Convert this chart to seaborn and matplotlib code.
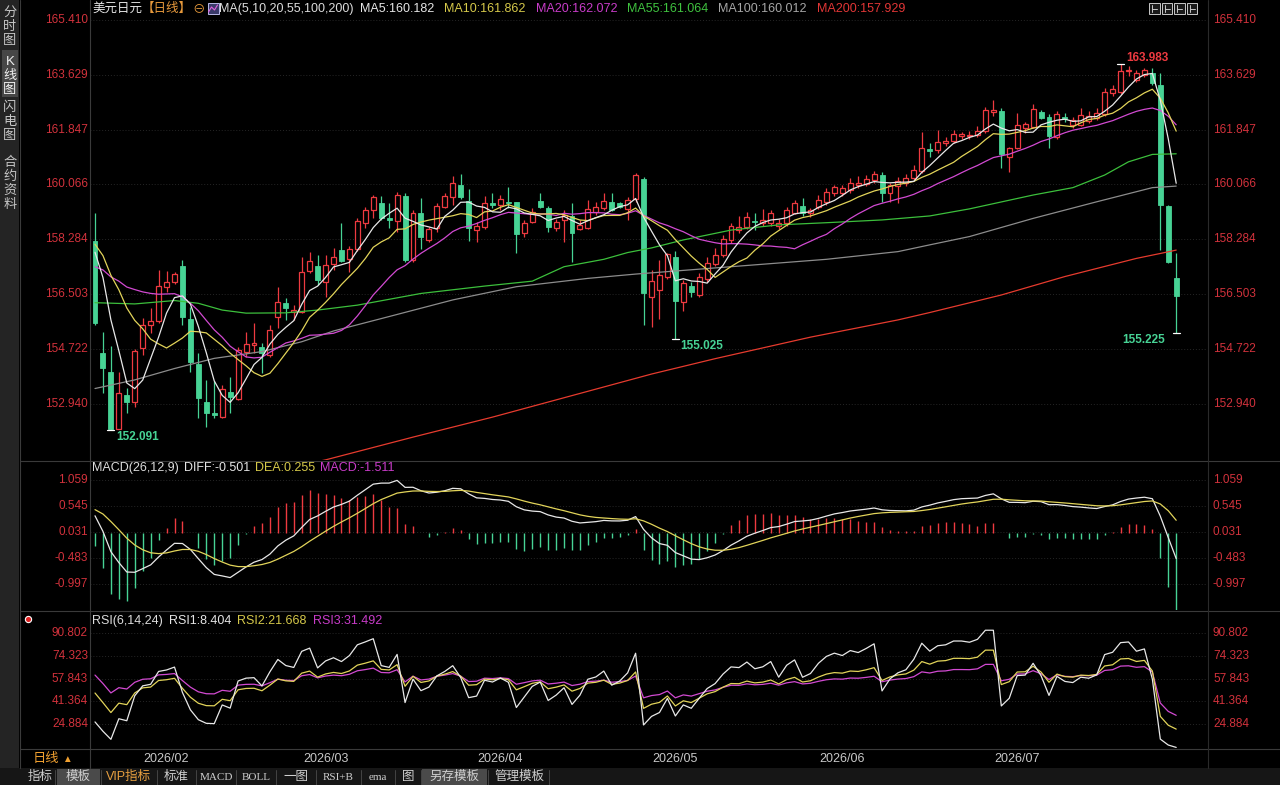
import numpy as np
import pandas as pd
import matplotlib
matplotlib.use("Agg")
import matplotlib.pyplot as plt
from matplotlib.patches import Rectangle
from matplotlib.lines import Line2D
import seaborn as sns

W, H = 1280, 785

# trading days shown on the chart
dates = pd.bdate_range("2026-01-20", "2026-07-29")

open_ = [158.24, 154.58, 153.98, 152.10, 153.22, 153.00, 154.75, 155.49, 155.63, 156.74,
         156.90, 157.42, 155.69, 154.23, 153.00, 152.62, 152.51, 153.33, 153.09, 154.63,
         154.84, 154.79, 154.52, 155.77, 156.20, 155.93, 155.93, 157.26, 157.42, 156.90,
         157.48, 157.93, 157.63, 157.95, 158.80, 159.23, 159.47, 158.98, 158.88, 159.69,
         157.61, 159.15, 158.26, 158.64, 159.34, 159.67, 160.05, 159.51, 158.58, 158.69,
         159.47, 159.40, 159.50, 159.50, 158.50, 158.85, 159.54, 159.29, 158.64, 158.91,
         159.04, 158.61, 158.66, 159.18, 159.29, 159.50, 159.45, 159.26, 159.58, 160.23,
         156.42, 156.63, 157.07, 157.69, 156.25, 156.76, 156.47, 156.98, 157.48, 157.77,
         158.26, 158.58, 158.67, 158.88, 158.80, 158.82, 158.72, 158.82, 159.15, 159.36,
         159.12, 159.32, 159.50, 159.78, 159.80, 159.88, 160.03, 160.08, 160.21, 160.37,
         159.78, 160.00, 160.10, 160.26, 160.50, 161.22, 161.18, 161.40, 161.48, 161.65,
         161.64, 161.67, 161.80, 162.43, 162.45, 160.97, 161.26, 161.91, 161.94, 162.41,
         162.27, 161.62, 162.27, 162.00, 162.00, 162.13, 162.23, 162.34, 163.03, 163.08,
         163.75, 163.46, 163.62, 163.68, 163.30, 159.37, 157.01]
high_ = [159.15, 155.27, 154.82, 153.98, 153.45, 154.70, 155.72, 156.05, 157.28, 157.26,
         157.22, 157.61, 156.09, 154.58, 153.71, 153.69, 153.54, 153.81, 154.79, 155.27,
         155.56, 154.91, 155.49, 156.74, 156.37, 156.15, 157.71, 157.88, 157.77, 157.77,
         157.99, 158.82, 158.06, 158.96, 159.34, 159.72, 159.69, 159.45, 159.83, 159.78,
         159.23, 159.61, 158.69, 159.45, 159.78, 160.34, 160.40, 159.91, 158.85, 159.69,
         159.78, 159.72, 159.99, 159.50, 158.91, 159.30, 159.80, 159.35, 158.95, 159.23,
         159.45, 158.91, 159.56, 159.50, 159.78, 159.80, 159.50, 159.67, 160.42, 160.32,
         157.28, 157.61, 157.82, 157.91, 156.96, 156.90, 157.17, 157.72, 157.99, 158.42,
         158.80, 159.04, 159.18, 159.12, 159.28, 159.23, 158.95, 159.34, 159.56, 159.61,
         159.30, 159.72, 159.94, 160.05, 160.05, 160.26, 160.34, 160.37, 160.50, 160.48,
         160.10, 160.30, 160.40, 160.70, 161.78, 161.40, 161.83, 161.62, 161.83, 161.78,
         161.80, 161.95, 162.59, 162.81, 162.54, 161.29, 162.38, 162.10, 162.67, 162.50,
         162.35, 162.45, 162.38, 162.27, 162.54, 162.45, 162.54, 163.19, 163.30, 163.983,
         163.90, 163.80, 163.86, 163.84, 163.68, 159.40, 157.82]
low_ = [155.50, 153.29, 152.091, 152.10, 152.63, 152.83, 154.52, 155.23, 155.56, 156.58,
        156.83, 155.49, 153.98, 152.47, 152.19, 152.47, 152.47, 152.63, 153.05, 154.46,
        154.60, 153.93, 154.45, 155.40, 155.66, 155.66, 155.90, 157.19, 156.80, 156.42,
        157.28, 157.55, 157.23, 157.90, 158.64, 158.96, 158.90, 158.64, 158.53, 157.55,
        157.55, 157.95, 158.20, 158.53, 159.30, 159.39, 159.60, 158.24, 158.20, 158.60,
        159.30, 159.23, 159.30, 157.82, 158.37, 158.80, 159.29, 158.53, 158.55, 158.20,
        157.55, 158.58, 158.60, 159.07, 159.23, 159.20, 159.30, 158.91, 159.50, 155.49,
        155.44, 155.68, 157.00, 155.025, 155.96, 156.39, 156.40, 156.90, 157.40, 157.70,
        158.15, 158.50, 158.60, 158.58, 158.70, 158.70, 158.60, 158.70, 159.10, 159.05,
        159.00, 159.25, 159.40, 159.70, 159.70, 159.80, 159.95, 160.00, 160.10, 159.50,
        159.50, 159.45, 160.00, 160.20, 160.45, 160.97, 161.10, 161.30, 161.40, 161.55,
        161.55, 161.60, 161.75, 162.30, 160.59, 160.48, 161.20, 161.73, 161.90, 162.20,
        161.26, 161.55, 162.10, 161.90, 161.95, 162.05, 162.15, 162.30, 162.95, 163.00,
        163.60, 163.40, 163.55, 163.30, 157.93, 157.50, 155.225]
close_ = [155.57, 154.10, 152.10, 153.29, 152.99, 154.65, 155.49, 155.62, 156.76, 156.90,
          157.15, 155.77, 154.30, 153.12, 152.62, 152.58, 153.41, 153.17, 154.68, 154.88,
          154.91, 154.57, 155.33, 156.25, 156.04, 155.98, 157.23, 157.58, 156.96, 157.45,
          157.69, 157.59, 157.96, 158.89, 159.23, 159.64, 158.96, 158.91, 159.72, 157.61,
          159.12, 158.37, 158.60, 159.36, 159.69, 160.12, 159.65, 158.64, 158.71, 159.47,
          159.40, 159.58, 159.45, 158.45, 158.80, 159.18, 159.34, 158.69, 158.85, 159.07,
          158.50, 158.75, 159.26, 159.34, 159.54, 159.23, 159.34, 159.56, 160.37, 156.52,
          156.94, 157.12, 157.79, 156.29, 156.85, 156.58, 157.04, 157.52, 157.77, 158.28,
          158.71, 158.69, 158.99, 158.83, 158.91, 159.12, 158.82, 159.23, 159.45, 159.12,
          159.23, 159.56, 159.83, 159.97, 159.94, 160.12, 160.10, 160.23, 160.40, 159.80,
          160.05, 160.19, 160.26, 160.53, 161.26, 161.15, 161.43, 161.48, 161.69, 161.69,
          161.68, 161.80, 162.48, 162.48, 161.04, 161.24, 162.00, 162.02, 162.52, 162.23,
          161.65, 162.34, 162.19, 162.16, 162.32, 162.30, 162.38, 163.06, 163.17, 163.75,
          163.80, 163.68, 163.78, 163.35, 159.40, 157.53, 156.45]

# closes just before the window, estimated from where MA5/10/20 and RSI start
prior_close = [156.2, 156.6, 156.1, 156.8, 156.3, 157.0, 156.6, 157.3, 156.7, 157.0,
               157.8, 158.5, 158.0, 158.9, 158.7, 158.2, 159.0, 158.3, 158.23]

# long averages (day index, value)
ma55_at = [0, 5, 10, 13, 16, 19, 24, 28, 33, 41, 49, 55, 59, 64, 67, 70, 74, 80, 86, 92,
           99, 105, 110, 118, 123, 127, 130, 133, 136]
ma55_val = [156.22, 156.18, 156.29, 156.20, 155.98, 155.88, 155.89, 155.98, 156.14, 156.52,
            156.76, 156.92, 157.39, 157.63, 157.85, 158.00, 158.26, 158.58, 158.75, 158.82,
            158.91, 159.04, 159.27, 159.72, 159.96, 160.37, 160.80, 161.04, 161.06]
ma100_at = [0, 5, 10, 15, 21, 26, 30, 37, 45, 53, 62, 68, 80, 92, 101, 105, 110, 118, 126,
            133, 136]
ma100_val = [153.43, 153.71, 154.08, 154.41, 154.63, 154.95, 155.30, 155.77, 156.31, 156.74,
             157.01, 157.15, 157.39, 157.63, 157.88, 158.10, 158.37, 158.96, 159.50, 159.96,
             160.01]
ma200_at = [26, 29, 40, 50, 60, 70, 78, 90, 101, 105, 114, 122, 131, 134, 136]
ma200_val = [150.95, 151.11, 151.85, 152.50, 153.20, 153.90, 154.40, 155.10, 155.66, 155.90,
             156.47, 157.07, 157.66, 157.82, 157.93]

price_ticks = [165.410, 163.629, 161.847, 160.066, 158.284, 156.503, 154.722, 152.940]
macd_ticks = [1.059, 0.545, 0.031, -0.483, -0.997]
rsi_ticks = [90.802, 74.323, 57.843, 41.364, 24.884]

header_ma = [("MA5:160.182", "#e6e6e6"), ("MA10:161.862", "#d6c94a"),
             ("MA20:162.072", "#c93cc9"), ("MA55:161.064", "#3fc23f"),
             ("MA100:160.012", "#a6a6a6"), ("MA200:157.929", "#e23636")]
header_macd = [("MACD(26,12,9)", "#dcdcdc"), ("DIFF:-0.501", "#e6e6e6"),
               ("DEA:0.255", "#d6c94a"), ("MACD:-1.511", "#c93cc9")]
header_rsi = [("RSI(6,14,24)", "#dcdcdc"), ("RSI1:8.404", "#e6e6e6"),
              ("RSI2:21.668", "#d6c94a"), ("RSI3:31.492", "#c93cc9")]
side_tabs = ["分时图", "K线图", "闪电图", "合约资料"]
bottom_tabs = ["指标", "模板", "VIP指标", "标准", "MACD", "BOLL", "一图", "RSI+B", "ema",
               "图", "另存模板", "管理模板"]

UP = "#ee3a40"
DOWN = "#47d395"
TICK = "#d2323c"
GRID = "#262626"
LINE = "#3a3a3a"
C_MA5, C_MA10, C_MA20 = "#e8e8e8", "#e2d45a", "#d24ad2"
C_MA55, C_MA100, C_MA200 = "#3cbf3c", "#8c8c8c", "#e63b2e"

sns.set_style("dark", rc={"axes.facecolor": "black", "figure.facecolor": "black"})
plt.rcParams["font.family"] = ["Liberation Sans", "Noto Sans CJK SC", "DejaVu Sans"]

o = np.array(open_)
h = np.array(high_)
l = np.array(low_)
c = np.array(close_)
x = np.arange(len(c))

full = pd.Series(prior_close + close_)
n0 = len(prior_close)
ma5 = full.rolling(5, min_periods=1).mean().values[n0:]
ma10 = full.rolling(10, min_periods=1).mean().values[n0:]
ma20 = full.rolling(20, min_periods=1).mean().values[n0:]

ema12 = full.ewm(span=12, adjust=False).mean()
ema26 = full.ewm(span=26, adjust=False).mean()
dif_s = ema12 - ema26
dea_s = dif_s.ewm(span=9, adjust=False).mean()
dif = dif_s.values[n0:]
dea = dea_s.values[n0:]
hist = 2 * (dif - dea)

chg = full.diff().iloc[1:]


def rsi(n):
    up = chg.clip(lower=0).ewm(alpha=1 / n, adjust=False).mean()
    tot = chg.abs().ewm(alpha=1 / n, adjust=False).mean()
    return (up / tot * 100).values[n0 - 1:]


rsi1, rsi2, rsi3 = rsi(6), rsi(14), rsi(24)


def box(x0, y0, x1, y1):
    return [x0 / W, 1 - y1 / H, (x1 - x0) / W, (y1 - y0) / H]


fig = plt.figure(figsize=(W / 100, H / 100), dpi=100, facecolor="black")
ax = fig.add_axes(box(90, 2, 1207, 460))
ax_m = fig.add_axes(box(90, 462, 1207, 610))
ax_r = fig.add_axes(box(90, 612, 1207, 748))

xlim = ((90 - 95) / 7.95, (1207 - 95) / 7.95)
for a in (ax, ax_m, ax_r):
    a.set_facecolor("black")
    a.set_xlim(*xlim)
    a.set_xticks([])
    a.set_yticks([])
    a.grid(False)
    for s in a.spines.values():
        s.set_visible(False)

ax.set_ylim(151.106, 165.995)
ax_m.set_ylim(-1.520, 1.416)
ax_r.set_ylim(7.85, 105.69)


def yticks(a, ticks):
    tr = a.get_yaxis_transform()
    for v in ticks:
        a.axhline(v, color=GRID, lw=0.7, ls=(0, (1, 2)), zorder=0)
        a.text(-2 / 1117, v, f"{v:.3f}", transform=tr, ha="right", va="center",
               color=TICK, fontsize=8.5, clip_on=False)
        a.text(1 + 6 / 1117, v, f"{v:.3f}", transform=tr, ha="left", va="center",
               color=TICK, fontsize=8.5, clip_on=False)


yticks(ax, price_ticks)
yticks(ax_m, macd_ticks)
yticks(ax_r, rsi_ticks)

# candles
up = c >= o
lo_b = np.minimum(o, c)
hi_b = np.maximum(o, c)
hgt = np.maximum(hi_b - lo_b, 0.02)
ax.vlines(x[up], hi_b[up], h[up], color=UP, lw=0.9, zorder=2)
ax.vlines(x[up], l[up], lo_b[up], color=UP, lw=0.9, zorder=2)
ax.vlines(x[~up], l[~up], h[~up], color=DOWN, lw=0.9, zorder=2)
ax.bar(x[up], hgt[up], bottom=lo_b[up], width=0.62, facecolor="black",
       edgecolor=UP, lw=0.9, zorder=2)
ax.bar(x[~up], hgt[~up], bottom=lo_b[~up], width=0.62, facecolor=DOWN,
       edgecolor=DOWN, lw=0.6, zorder=2)

# moving averages
for xs, ys, col in [(ma200_at, ma200_val, C_MA200), (ma100_at, ma100_val, C_MA100),
                    (ma55_at, ma55_val, C_MA55), (x, ma20, C_MA20),
                    (x, ma10, C_MA10), (x, ma5, C_MA5)]:
    sns.lineplot(x=np.asarray(xs), y=np.asarray(ys), ax=ax, color=col, lw=0.9, zorder=3)
ax.set_xlim(*xlim)
ax.set_ylim(151.106, 165.995)

# extreme marks
marks = [(2, "low", 5, -7), (73, "low", 5, -7), (136, "low", -11, -7), (129, "high", 6, 6)]
for i, kind, dx, dy in marks:
    v = l[i] if kind == "low" else h[i]
    ax.plot([i - 0.45, i + 0.45], [v, v], color="white", lw=0.9, zorder=5)
    ax.annotate(f"{v:.3f}", (i, v), xytext=(dx * 0.72, dy * 0.72), textcoords="offset points",
                ha="left" if dx > 0 else "right", va="center", fontsize=8.5,
                fontweight="bold", color=DOWN if kind == "low" else UP, zorder=6)

# MACD panel
ax_m.vlines(x, 0, hist, colors=np.where(hist >= 0, UP, DOWN), lw=1.0, zorder=2)
sns.lineplot(x=x, y=dif, ax=ax_m, color=C_MA5, lw=0.9, zorder=3)
sns.lineplot(x=x, y=dea, ax=ax_m, color=C_MA10, lw=0.9, zorder=3)
ax_m.set_xlim(*xlim)
ax_m.set_ylim(-1.520, 1.416)

# RSI panel
for ys, col in [(rsi3, C_MA20), (rsi2, C_MA10), (rsi1, C_MA5)]:
    sns.lineplot(x=x, y=ys, ax=ax_r, color=col, lw=0.9, zorder=3)
ax_r.set_xlim(*xlim)
ax_r.set_ylim(7.85, 105.69)

for a in (ax, ax_m, ax_r):
    a.set_xlabel("")
    a.set_ylabel("")


def fline(x0, y0, x1, y1, col=LINE, lw=0.8):
    fig.add_artist(Line2D([x0 / W, x1 / W], [1 - y0 / H, 1 - y1 / H], color=col, lw=lw))


def frect(x0, y0, x1, y1, fc, ec="none", lw=0.8):
    fig.add_artist(Rectangle((x0 / W, 1 - y1 / H), (x1 - x0) / W, (y1 - y0) / H,
                             facecolor=fc, edgecolor=ec, lw=lw))


def ftext(xp, yp, s, **kw):
    return fig.text(xp / W, 1 - yp / H, s, **kw)


# panel separators and frame
fline(19.5, 461, W, 461)
fline(19.5, 611, W, 611)
fline(19.5, 749, W, 749)
fline(89.5, 0, 89.5, 768)
fline(1207.5, 0, 1207.5, 768, col="#2a2a2a")

# left side tabs
frect(0, 0, 19, 768, "#242424")
fline(19.5, 0, 19.5, 768)
frect(2, 50, 18, 97, "#474747")
y0s = [13, 62, 108, 163]
for tab, ys in zip(side_tabs, y0s):
    for k, ch in enumerate(tab):
        ftext(10, ys + k * 14, ch, ha="center", va="center", fontsize=9.5,
              color="#f0f0f0" if tab == "K线图" else "#c4c4c4")

renderer = fig.canvas.get_renderer()


def row(x0, yc, parts, gap, size=9):
    xp = x0
    for s, col in parts:
        t = ftext(xp, yc, s, ha="left", va="center", fontsize=size, color=col)
        xp = t.get_window_extent(renderer=renderer).x1 + gap
    return xp


# header of the price panel
xp = row(92, 9, [("美元日元", "#e6e6e6"), ("【日线】", "#e89a3c")], 0)
xp = row(xp, 9, [("⊖", "#e89a3c")], 0)
frect(xp + 3, 3, xp + 14, 14, "#3a3a6a", ec="#b8b8e8", lw=0.7)
fig.add_artist(Line2D([(xp + 4) / W, (xp + 7) / W, (xp + 10) / W, (xp + 13) / W],
                      [1 - 12 / H, 1 - 7 / H, 1 - 10 / H, 1 - 5 / H], color="#e060e0", lw=0.8))
xp = row(xp + 15, 9, [("MA(5,10,20,55,100,200)", "#dcdcdc")], 6)
row(xp, 9, header_ma, 10)

row(92, 468, header_macd, 5)
row(92, 621, header_rsi, 6)
fig.add_artist(Line2D([28 / W], [1 - 619 / H], marker="o", markersize=4.5,
                      markerfacecolor="#e02020", markeredgecolor="white",
                      markeredgewidth=0.8, linestyle="none"))

# top right buttons
for k in range(4):
    bx = 1149 + k * 12.5
    frect(bx, 3, bx + 10.5, 14, "#1a1a1a", ec="#c8c8c8", lw=0.7)
    fline(bx + 3, 5, bx + 3, 12, col="#c8c8c8", lw=0.7)
    fline(bx + 3, 8.5, bx + 8, 8.5, col="#c8c8c8", lw=0.7)

# month labels
mon = dates.to_period("M")
starts = [i for i in range(1, len(dates)) if mon[i] != mon[i - 1]]
for i in starts:
    xpx = 95 + 7.95 * i
    ftext(xpx, 759, dates[i].strftime("%Y/%m"), ha="center", va="center",
          fontsize=9, color="#c8c8c8")
ftext(33, 759, "日线", ha="left", va="center", fontsize=9.5, color="#f0a030")
ftext(62, 759, "▲", ha="left", va="center", fontsize=7, color="#f0a030")

# bottom tab bar
frect(0, 768, W, 785, "#161616")
tab_x = [(26, 54), (57, 100), (102, 156), (158, 195), (197, 235), (237, 275), (277, 315),
         (317, 360), (362, 394), (396, 420), (422, 487), (490, 548)]
for name, (a0, a1) in zip(bottom_tabs, tab_x):
    if name in ("模板", "另存模板"):
        frect(a0, 769, a1, 785, "#4a4a4a")
    col = "#e8a040" if name == "VIP指标" else "#cfcfcf"
    fam = ["Liberation Serif", "Noto Sans CJK SC"] if name in ("MACD", "BOLL", "RSI+B", "ema") else None
    kw = {"family": fam} if fam else {}
    ftext((a0 + a1) / 2, 777, name, ha="center", va="center",
          fontsize=8 if fam else 9, color=col, **kw)
    fline(a1 + 1, 770, a1 + 1, 785, col="#444444", lw=0.7)

fig.savefig("out.png", dpi=100, facecolor="black")
